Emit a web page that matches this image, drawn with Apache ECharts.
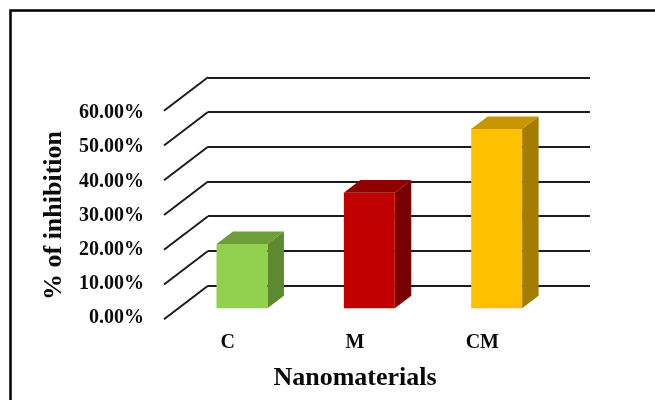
<!DOCTYPE html>
<html>
<head>
<meta charset="utf-8">
<script src="https://cdn.jsdelivr.net/npm/echarts@6/dist/echarts.min.js"></script>
<style>
  html, body { margin: 0; padding: 0; background: #fff; }
  #chart { width: 655px; height: 400px; }
</style>
</head>
<body>
<div id="chart"></div>
<script>
// Inhibition by nanomaterial
const categories = ['C', 'M', 'CM'];
const inhibition = [0.185, 0.333, 0.516];
const valueTicks = [0, 0.1, 0.2, 0.3, 0.4, 0.5, 0.6];

// face colours per bar: front, top, side
const faceColors = [
  { front: '#92D050', top: '#6E9E3A', side: '#5E8A2F' },
  { front: '#C00000', top: '#8F0000', side: '#780000' },
  { front: '#FFC000', top: '#C79600', side: '#A47D00' }
];

// oblique projection: back wall -> front edge of the floor
const DEPTH = [-44, 33.5];
const BAR_FRONT = 0.675;   // bar front plane, as a share of the floor depth
const BAR_BACK = 0.3;      // bar back plane
const BAR_RATIO = 0.4;     // bar width inside its category band
const FONT = "'Liberation Serif', 'Times New Roman', serif";
const INK = '#0a0a0a';

const chart = echarts.init(document.getElementById('chart'), null, { renderer: 'canvas' });

function renderBar(params, api) {
  const i = api.value(0);
  const v = api.value(1);
  const base = api.coord([i, 0]);
  const top = api.coord([i, v]);
  const half = api.size([1, 0])[0] * BAR_RATIO / 2;
  const fx = DEPTH[0] * BAR_FRONT, fy = DEPTH[1] * BAR_FRONT;
  const bx = DEPTH[0] * (BAR_BACK - BAR_FRONT), by = DEPTH[1] * (BAR_BACK - BAR_FRONT);
  const xl = base[0] + fx - half, xr = base[0] + fx + half;
  const yb = base[1] + fy, yt = top[1] + fy;
  const c = faceColors[i];
  return {
    type: 'group',
    children: [
      { type: 'polygon', shape: { points: [[xr, yt], [xr + bx, yt + by], [xr + bx, yb + by], [xr, yb]] }, style: { fill: c.side } },
      { type: 'polygon', shape: { points: [[xl, yt], [xr, yt], [xr + bx, yt + by], [xl + bx, yt + by]] }, style: { fill: c.top } },
      { type: 'rect', shape: { x: xl, y: yt, width: xr - xl, height: yb - yt }, style: { fill: c.front } }
    ]
  };
}

function renderFloorEdge(params, api) {
  const p = api.coord([0, api.value(1)]);
  const x0 = params.coordSys.x;
  return {
    type: 'line',
    shape: { x1: x0, y1: p[1], x2: x0 + DEPTH[0], y2: p[1] + DEPTH[1] },
    style: { stroke: '#1c1c1c', lineWidth: 2 }
  };
}

const option = {
  animation: false,
  backgroundColor: '#fff',
  graphic: [{
    type: 'rect',
    shape: { x: 10.5, y: 10.5, width: 700, height: 500 },
    style: { fill: 'none', stroke: '#000', lineWidth: 2.5 },
    silent: true
  }],
  grid: [
    // back wall
    { left: 208, right: 65, top: 77.3, bottom: 114.3 },
    // front edge, carries the labels
    { left: 164, right: 109, top: 113, bottom: 82 }
  ],
  xAxis: [
    {
      gridIndex: 0, type: 'category', data: categories,
      axisLine: { show: false }, axisTick: { show: false }, axisLabel: { show: false }
    },
    {
      gridIndex: 1, type: 'category', data: categories,
      axisLine: { show: false }, axisTick: { show: false },
      axisLabel: { margin: 15, fontFamily: FONT, fontWeight: 'bold', fontSize: 20, color: INK },
      name: 'Nanomaterials', nameLocation: 'middle', nameGap: 47,
      nameTextStyle: { fontFamily: FONT, fontWeight: 'bold', fontSize: 26, color: INK }
    }
  ],
  yAxis: [
    {
      gridIndex: 0, type: 'value',
      min: valueTicks[0], max: valueTicks[valueTicks.length - 1], interval: valueTicks[1] - valueTicks[0],
      axisLine: { show: false }, axisTick: { show: false }, axisLabel: { show: false },
      splitLine: { show: true, lineStyle: { color: '#1c1c1c', width: 2 } }
    },
    {
      gridIndex: 1, type: 'value',
      min: valueTicks[0], max: valueTicks[valueTicks.length - 1], interval: valueTicks[1] - valueTicks[0],
      axisLine: { show: false }, axisTick: { show: false }, splitLine: { show: false },
      axisLabel: {
        margin: 20, fontFamily: FONT, fontWeight: 'bold', fontSize: 20, color: INK,
        formatter: v => (v * 100).toFixed(2) + '%'
      },
      name: '% of inhibition', nameLocation: 'middle', nameGap: 97,
      nameTextStyle: { fontFamily: FONT, fontWeight: 'bold', fontSize: 26, color: INK }
    }
  ],
  series: [
    {
      type: 'custom', xAxisIndex: 0, yAxisIndex: 0, clip: false,
      renderItem: renderFloorEdge,
      data: valueTicks.map(v => [0, v]),
      z: 1
    },
    {
      type: 'custom', xAxisIndex: 0, yAxisIndex: 0, clip: false,
      renderItem: renderBar,
      data: inhibition.map((v, i) => [i, v]),
      z: 3
    }
  ]
};

chart.setOption(option);
</script>
</body>
</html>
